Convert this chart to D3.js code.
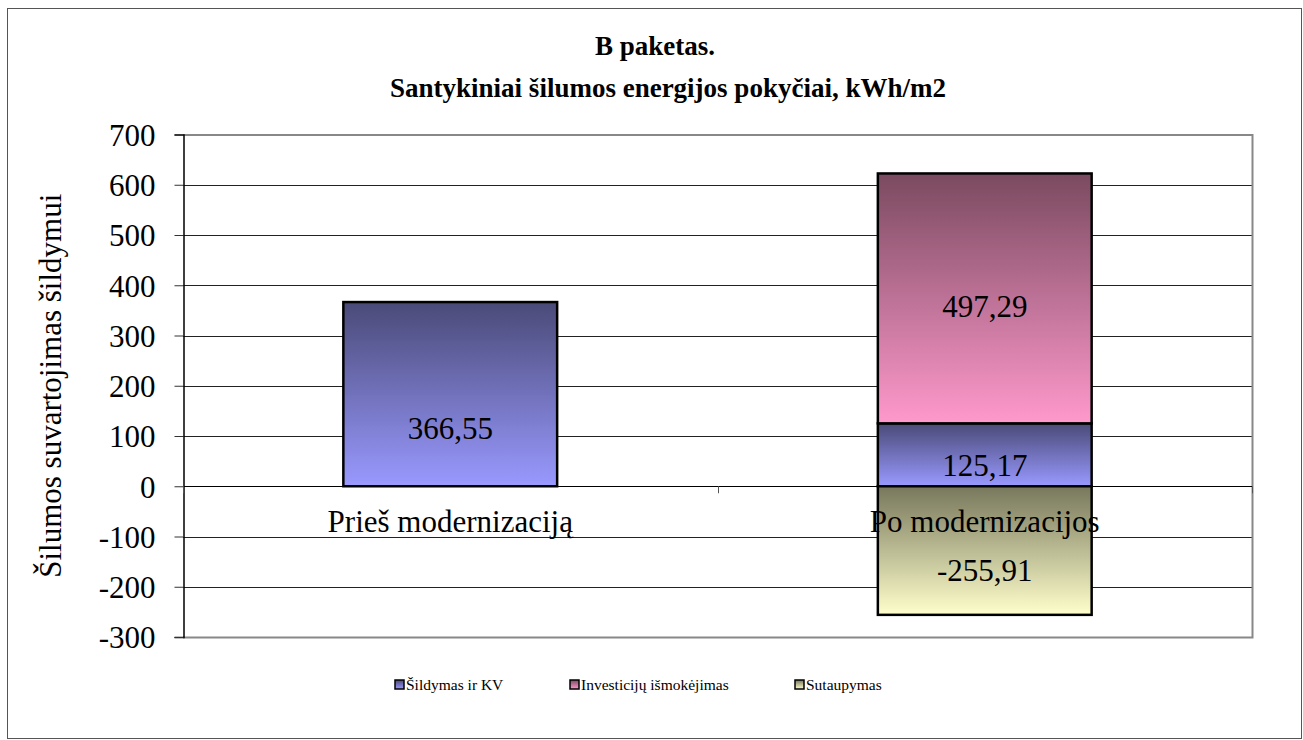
<!DOCTYPE html>
<html>
<head>
<meta charset="utf-8">
<script src="https://cdn.jsdelivr.net/npm/d3@7"></script>
</head>
<body style="margin:0">
<script>
// chart data
var categories = ["Prieš modernizaciją", "Po modernizacijos"];
var seriesNames = ["Šildymas ir KV", "Investicijų išmokėjimas", "Sutaupymas"];
var heating = [366.55, 125.17];
var investment = [0, 497.29];
var savings = [0, -255.91];
var valueLabels = [["366,55", "125,17"], ["", "497,29"], ["", "-255,91"]];
var yTicks = [-300, -200, -100, 0, 100, 200, 300, 400, 500, 600, 700];

// gradients for each series: top colour, bottom colour
var gradTop = ["#4a4a78", "#7a4a60", "#77775c"];
var gradBottom = ["#9999ff", "#ff99cc", "#ffffcc"];
// nudge labels down a little, like the original
var labelShift = [[34, 10], [0, 8], [0, 20]];

var fontName = "Times New Roman, Liberation Serif, serif";
var width = 1303, height = 740;
var plot = {left: 183, right: 1252, top: 134.5, bottom: 637};

var svg = d3.select("body").append("svg")
    .attr("width", width)
    .attr("height", height)
    .attr("font-family", fontName);

var defs = svg.append("defs");
seriesNames.forEach(function(name, i) {
    var g = defs.append("linearGradient")
        .attr("id", "grad" + i)
        .attr("x1", 0).attr("y1", 0).attr("x2", 0).attr("y2", 1);
    g.append("stop").attr("offset", "0%").attr("stop-color", gradTop[i]);
    g.append("stop").attr("offset", "100%").attr("stop-color", gradBottom[i]);
});

// outer frame
svg.append("rect")
    .attr("x", 7.5).attr("y", 8.5)
    .attr("width", 1294).attr("height", 730)
    .attr("fill", "none")
    .attr("stroke", "#555")
    .attr("stroke-width", 1);

var y = d3.scaleLinear()
    .domain([-300, 700])
    .range([plot.bottom, plot.top]);

var x = d3.scaleBand()
    .domain(categories)
    .range([plot.left, plot.right])
    .paddingInner(0.6)
    .paddingOuter(0.3);

// gridlines
svg.append("g")
    .selectAll("line")
    .data(yTicks)
    .enter().append("line")
    .attr("x1", plot.left).attr("x2", plot.right)
    .attr("y1", function(d) { return Math.round(y(d)) + 0.5; })
    .attr("y2", function(d) { return Math.round(y(d)) + 0.5; })
    .attr("stroke", "#222")
    .attr("stroke-width", 1);

// plot area border (right and bottom grey)
svg.append("path")
    .attr("d", "M" + plot.left + "," + (plot.top + 0.5) + "H" + (plot.right + 0.5) + "V" + (plot.bottom + 0.5) + "H" + plot.left)
    .attr("fill", "none")
    .attr("stroke", "#888")
    .attr("stroke-width", 2);

// y axis
var yAxis = d3.axisLeft(y)
    .tickValues(yTicks)
    .tickSize(9)
    .tickPadding(19)
    .tickFormat(function(d) { return String(d); });

var yg = svg.append("g")
    .attr("transform", "translate(" + (plot.left + 0.5) + ",0)")
    .call(yAxis);
yg.attr("font-family", fontName).attr("font-size", 31);
yg.select(".domain").attr("stroke", "#000").attr("stroke-width", 1.5);
yg.selectAll(".tick line").attr("stroke", "#333");
yg.selectAll(".tick text")
    .attr("fill", "#000")
    .attr("dy", "0.35em");

// stacked segments
var stacks = [];
categories.forEach(function(cat, c) {
    var posBase = 0, negBase = 0;
    [heating, investment, savings].forEach(function(vals, s) {
        var v = vals[c];
        if (v === 0) return;
        var y0, y1;
        if (v > 0) { y0 = posBase; y1 = posBase + v; posBase = y1; }
        else { y0 = negBase + v; y1 = negBase; negBase = y0; }
        stacks.push({cat: cat, c: c, s: s, y0: y0, y1: y1, label: valueLabels[s][c]});
    });
});

var bars = svg.append("g").selectAll(".seg")
    .data(stacks)
    .enter().append("g")
    .attr("class", "seg");

bars.append("rect")
    .attr("x", function(d) { return x(d.cat); })
    .attr("width", x.bandwidth())
    .attr("y", function(d) { return y(d.y1); })
    .attr("height", function(d) { return y(d.y0) - y(d.y1); })
    .attr("fill", function(d) { return "url(#grad" + d.s + ")"; })
    .attr("stroke", "#000")
    .attr("stroke-width", 2.5);

// category axis at zero
var xAxisG = svg.append("g");
xAxisG.append("line")
    .attr("x1", plot.left).attr("x2", plot.right)
    .attr("y1", Math.round(y(0)) + 0.5).attr("y2", Math.round(y(0)) + 0.5)
    .attr("stroke", "#000").attr("stroke-width", 1);
var boundaries = [x.range()[0], (x(categories[0]) + x.bandwidth() + x(categories[1])) / 2, x.range()[1]];
xAxisG.selectAll(".ctick")
    .data(boundaries)
    .enter().append("line")
    .attr("x1", function(d) { return Math.round(d) + 0.5; })
    .attr("x2", function(d) { return Math.round(d) + 0.5; })
    .attr("y1", y(0)).attr("y2", y(0) + 7)
    .attr("stroke", "#555");

xAxisG.selectAll(".clabel")
    .data(categories)
    .enter().append("text")
    .attr("x", function(d) { return x(d) + x.bandwidth() / 2; })
    .attr("y", y(0) + 46)
    .attr("text-anchor", "middle")
    .attr("font-size", 31)
    .text(function(d) { return d; });

// value labels
bars.append("text")
    .attr("x", function(d) { return x(d.cat) + x.bandwidth() / 2; })
    .attr("y", function(d) { return y((d.y0 + d.y1) / 2) + labelShift[d.s][d.c]; })
    .attr("dy", "0.35em")
    .attr("text-anchor", "middle")
    .attr("font-size", 31)
    .text(function(d) { return d.label; });

// titles
svg.append("text")
    .attr("x", 655).attr("y", 55)
    .attr("text-anchor", "middle")
    .attr("font-size", 27).attr("font-weight", "bold")
    .text("B paketas.");
svg.append("text")
    .attr("x", 668).attr("y", 97)
    .attr("text-anchor", "middle")
    .attr("font-size", 27).attr("font-weight", "bold")
    .text("Santykiniai šilumos energijos pokyčiai, kWh/m2");

svg.append("text")
    .attr("transform", "translate(61," + ((plot.top + plot.bottom) / 2) + ") rotate(-90)")
    .attr("text-anchor", "middle")
    .attr("font-size", 31)
    .text("Šilumos suvartojimas šildymui");

// legend
var legendX = [395, 570, 795];
var legend = svg.append("g").selectAll(".leg")
    .data(seriesNames)
    .enter().append("g")
    .attr("transform", function(d, i) { return "translate(" + legendX[i] + ",685)"; });
legend.append("rect")
    .attr("x", 0).attr("y", -5)
    .attr("width", 9).attr("height", 9)
    .attr("fill", function(d, i) { return "url(#grad" + i + ")"; })
    .attr("stroke", "#000").attr("stroke-width", 1.5);
legend.append("text")
    .attr("x", 11).attr("y", 0)
    .attr("dy", "0.35em")
    .attr("font-size", 15.5)
    .text(function(d) { return d; });

// every label in the serif face
svg.selectAll("text").attr("font-family", fontName);
</script>
</body>
</html>
